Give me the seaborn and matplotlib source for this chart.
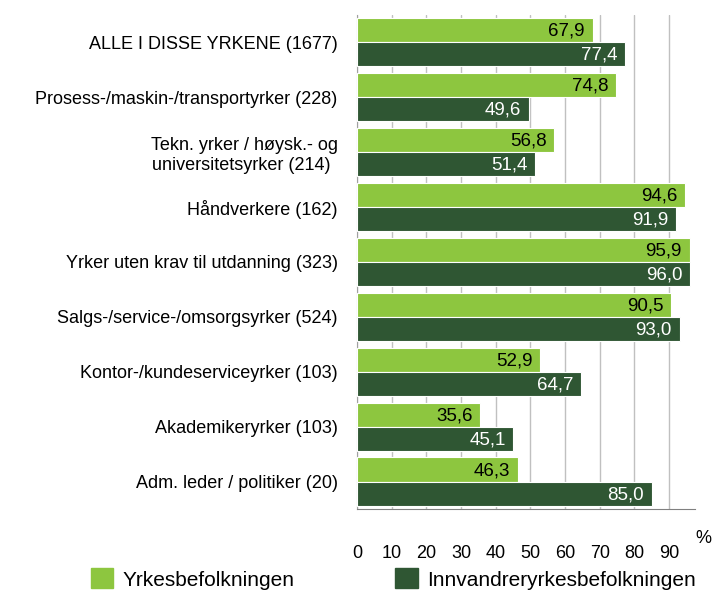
import matplotlib
matplotlib.use('Agg')
import matplotlib.pyplot as plt
import seaborn as sns
import pandas as pd
import numpy as np

categories = ['ALLE I DISSE YRKENE (1677)',
              'Prosess-/maskin-/transportyrker (228)',
              'Tekn. yrker / høysk.- og\nuniversitetsyrker (214) ',
              'Håndverkere (162)',
              'Yrker uten krav til utdanning (323)',
              'Salgs-/service-/omsorgsyrker (524)',
              'Kontor-/kundeserviceyrker (103)',
              'Akademikeryrker (103)',
              'Adm. leder / politiker (20)']
yrkes = [67.9, 74.8, 56.8, 94.6, 95.9, 90.5, 52.9, 35.6, 46.3]
innv = [77.4, 49.6, 51.4, 91.9, 96.0, 93.0, 64.7, 45.1, 85.0]
series = ['Yrkesbefolkningen', 'Innvandreryrkesbefolkningen']
xticks = [0, 10, 20, 30, 40, 50, 60, 70, 80, 90]

df = pd.DataFrame({
    'kategori': categories * 2,
    'andel': yrkes + innv,
    'gruppe': [series[0]] * len(categories) + [series[1]] * len(categories),
})

sns.set_style('white')
plt.rcParams['font.family'] = ['Liberation Sans', 'DejaVu Sans']
plt.rcParams['text.color'] = 'black'
plt.rcParams['xtick.labelcolor'] = 'black'
plt.rcParams['ytick.labelcolor'] = 'black'

light = '#8dc63f'
dark = '#2f5633'

fig = plt.figure(figsize=(7.13, 5.92), dpi=100)
ax = fig.add_axes([0.5007, 0.140, 0.4743, 0.835])

sns.barplot(data=df, y='kategori', x='andel', hue='gruppe', orient='h',
            palette=[light, dark], saturation=1, width=0.88, edgecolor='white',
            linewidth=0.8, legend=False, ax=ax, zorder=3)

ax.set_xlim(0, 97.5)
ax.set_ylim(len(categories) - 0.5, -0.5)
ax.set_xticks(xticks)
ax.set_xticklabels([str(t) for t in xticks], fontsize=13)
ax.set_xlabel('')
ax.set_ylabel('')
ax.tick_params(axis='x', direction='out', length=5, width=0.8, color='#808080', pad=21)
ax.tick_params(axis='y', which='major', length=0, pad=14, labelsize=13)
ax.set_yticks(np.arange(-0.5, len(categories), 1), minor=True)
ax.tick_params(axis='y', which='minor', direction='out', length=5, width=0.8, color='#a0a0a0')
for lab in ax.get_yticklabels():
    lab.set_multialignment('center')

ax.grid(axis='x', color='#c0c0c0', linewidth=1.0, zorder=0)
ax.grid(axis='y', visible=False)
for s in ['top', 'right']:
    ax.spines[s].set_visible(False)
ax.spines['left'].set_color('#a0a0a0')
ax.spines['bottom'].set_color('#808080')

for p, c in zip(ax.patches, [light] * len(categories) + [dark] * len(categories)):
    w = p.get_width()
    y = p.get_y() + p.get_height() / 2
    ax.text(w - 2.2, y + 0.02, f'{w:.1f}'.replace('.', ','), ha='right', va='center',
            fontsize=13.5, color='black' if c == light else 'white', zorder=4)

fig.text(0.986, 0.090, '%', fontsize=13, ha='center', va='center')

for col, name, x0 in [(light, series[0], 0.127), (dark, series[1], 0.554)]:
    h = plt.Rectangle((0, 0), 1, 1, color=col)
    fig.legend([h], [name], loc='center left', bbox_to_anchor=(x0, 0.022),
               frameon=False, fontsize=15, handlelength=1.1, handleheight=1.1,
               handletextpad=0.45, borderpad=0, borderaxespad=0)

fig.savefig('out.png', dpi=100)
